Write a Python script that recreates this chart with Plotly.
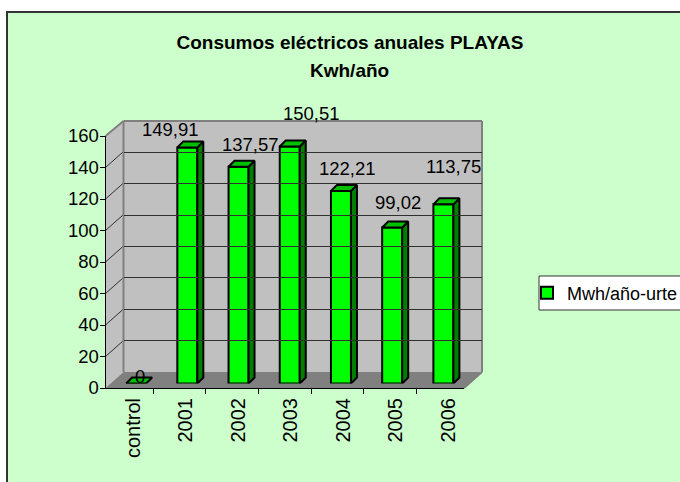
import plotly.graph_objects as go

categories = ["control", "2001", "2002", "2003", "2004", "2005", "2006"]
values = [0, 149.91, 137.57, 150.51, 122.21, 99.02, 113.75]
value_labels = ["0", "149,91", "137,57", "150,51", "122,21", "99,02", "113,75"]
y_ticks = [0, 20, 40, 60, 80, 100, 120, 140, 160]
series_name = "Mwh/año-urte"
title_line1 = "Consumos eléctricos anuales PLAYAS"
title_line2 = "Kwh/año"

# layout, in window pixels
W, H = 680, 482
FONT = "Liberation Sans"
FS = 18
label_dx = [4, -17, 12, 22, 7, 6, 10]
label_dy = [7, 18, 22, 33, 23, 25, 38]
AX_L, AX_R, AX_B, AX_T = 105.5, 464, 388, 136
DEPTH_X, DEPTH_Y = 18, 16
BAR_SHIFT_X, BAR_SHIFT_Y = 5, 4.5
FACE = 6
idx = list(range(len(categories)))
px_per_cat = (AX_R - AX_L) / len(categories)
ymax = y_ticks[-1]
px_per_val = (AX_B - AX_T) / ymax
dx = FACE / px_per_cat
dy = FACE / px_per_val
BAR_W = 20 / px_per_cat


def fx(x):
    return x / W


def fy(y):
    return 1 - y / H


def dom_x(a, b):
    return [fx(a), fx(b)]


def dom_y(bottom, top):
    return [fy(bottom), fy(top)]


def poly(points, fill, line="rgba(0,0,0,0)", width=0):
    path = "M " + " L ".join(f"{fx(x)},{fy(y)}" for x, y in points) + " Z"
    return dict(type="path", xref="paper", yref="paper", path=path, fillcolor=fill,
                line=dict(color=line, width=width), layer="below")


def seg(p, q, color, width):
    return dict(type="line", xref="paper", yref="paper", x0=fx(p[0]), y0=fy(p[1]),
                x1=fx(q[0]), y1=fy(q[1]), line=dict(color=color, width=width), layer="below")


GREY = "#808080"
WALL = "#C0C0C0"
BL, BR = AX_L + DEPTH_X, AX_R + DEPTH_X
BB, BT = AX_B - DEPTH_Y, AX_T - DEPTH_Y + 1
shapes = [
    dict(type="rect", xref="paper", yref="paper", x0=fx(7), y0=fy(12), x1=fx(W + 5), y1=fy(H + 5),
         fillcolor="#CCFFCC", line=dict(color="#333333", width=2), layer="below"),
    poly([(AX_L, AX_B), (BL, BB), (BL, BT), (AX_L, AX_T)], WALL),
    poly([(BL, BT), (BR, BT), (BR, BB), (BL, BB)], WALL),
    poly([(AX_L, AX_B), (AX_R, AX_B), (BR, BB), (BL, BB)], GREY),
]
for t in y_ticks[1:-1]:
    y = AX_B - t * px_per_val
    shapes.append(seg((AX_L, y), (BL, y - DEPTH_Y), "#303030", 1))
shapes += [
    seg((AX_L, AX_T), (BL, BT), GREY, 2),
    seg((BL, BT), (BR, BT), GREY, 2),
    seg((BR, BT), (BR, BB), GREY, 2),
    seg((BL, BT), (BL, BB), GREY, 2),
    seg((AX_R, AX_B), (BR, BB), GREY, 2),
    # legend box
    dict(type="rect", xref="paper", yref="paper", x0=fx(539), y0=fy(276), x1=fx(W + 5), y1=fy(310),
         fillcolor="#FFFFFF", line=dict(color="#333333", width=1), layer="below"),
]

fig = go.Figure()

# invisible carriers so every axis is drawn
fig.add_trace(go.Scatter(x=categories, y=values, xaxis="x", yaxis="y", mode="markers",
                         marker=dict(opacity=0), hoverinfo="skip", showlegend=False))
fig.add_trace(go.Scatter(x=idx, y=values, xaxis="x3", yaxis="y3", mode="markers",
                         marker=dict(opacity=0), hoverinfo="skip", showlegend=False))

# front faces
fig.add_trace(go.Bar(x=idx, y=values, xaxis="x2", yaxis="y2", width=BAR_W, name=series_name,
                     marker=dict(color="#00FF00", line=dict(color="#000000", width=2)),
                     showlegend=True))

# side and top faces, derived from the values
side_x, side_y, top_x, top_y = [], [], [], []
for i, v in zip(idx, values):
    r = i + BAR_W / 2
    l = i - BAR_W / 2
    if v > 0:
        side_x += [r, r + dx, r + dx, r, r, None]
        side_y += [0, dy, v + dy, v, 0, None]
    top_x += [l, r, r + dx, l + dx, l, None]
    top_y += [v, v, v + dy, v + dy, v, None]
fig.add_trace(go.Scatter(x=side_x, y=side_y, xaxis="x2", yaxis="y2", mode="lines", fill="toself",
                         fillcolor="#008000", line=dict(color="#000000", width=2),
                         hoverinfo="skip", showlegend=False, cliponaxis=False))
fig.add_trace(go.Scatter(x=top_x, y=top_y, xaxis="x2", yaxis="y2", mode="lines", fill="toself",
                         fillcolor="#00C000", line=dict(color="#000000", width=2),
                         hoverinfo="skip", showlegend=False, cliponaxis=False))

annotations = [
    dict(xref="x2", yref="y2", x=i, y=v, text=t, showarrow=False, xanchor="center", yanchor="middle",
         xshift=sx, yshift=sy, font=dict(family=FONT, size=18.5, color="#000000"))
    for i, v, t, sx, sy in zip(idx, values, value_labels, label_dx, label_dy)
]
annotations.append(dict(xref="paper", yref="paper", x=fx(350), y=fy(70), text=f"<b>{title_line2}</b>",
                        showarrow=False, xanchor="center", yanchor="middle",
                        font=dict(family=FONT, size=19, color="#000000")))

hidden = dict(visible=False, fixedrange=True)
fig.update_layout(
    width=W, height=H, autosize=False,
    margin=dict(l=0, r=0, t=0, b=0, pad=0, autoexpand=False),
    paper_bgcolor="#FFFFFF", plot_bgcolor="rgba(0,0,0,0)",
    font=dict(family=FONT, size=FS, color="#000000"),
    title=dict(text=f"<b>{title_line1}</b>", x=fx(350), xanchor="center", xref="paper",
               y=fy(42), yanchor="middle", yref="container",
               font=dict(family=FONT, size=19, color="#000000")),
    shapes=shapes, annotations=annotations,
    barmode="overlay",
    showlegend=True,
    legend=dict(x=fx(527), xanchor="left", xref="container", y=fy(293), yanchor="middle",
                yref="container", bgcolor="rgba(0,0,0,0)",
                borderwidth=0, font=dict(family=FONT, size=FS, color="#000000"),
                itemclick=False, itemdoubleclick=False),
    xaxis=dict(domain=dom_x(AX_L, AX_R), anchor="y", type="category", categoryorder="array",
               categoryarray=categories, tickson="boundaries", ticks="outside", ticklen=5,
               tickwidth=1, tickcolor="#000000", tickangle=-90, showgrid=False, showline=True,
               linecolor="#000000", linewidth=1, zeroline=False, ticklabelshift=6,
               ticklabelstandoff=1,
               tickfont=dict(family=FONT, size=20, color="#000000"), fixedrange=True),
    yaxis=dict(domain=dom_y(AX_B, AX_T), anchor="x", range=[0, ymax], tickvals=y_ticks,
               ticks="outside", ticklen=5, tickwidth=1, tickcolor="#000000", showgrid=False,
               showline=True, linecolor="#000000", linewidth=1, zeroline=False,
               ticklabelstandoff=-3,
               tickfont=dict(family=FONT, size=18.5, color="#000000"), fixedrange=True),
    xaxis2=dict(domain=dom_x(AX_L + BAR_SHIFT_X, AX_R + BAR_SHIFT_X), anchor="y2",
                range=[-0.5, len(categories) - 0.5], **hidden),
    yaxis2=dict(domain=dom_y(AX_B - BAR_SHIFT_Y, AX_T - BAR_SHIFT_Y), anchor="x2",
                range=[0, ymax], **hidden),
    xaxis3=dict(domain=dom_x(BL, BR), anchor="y3", range=[-0.5, len(categories) - 0.5],
                showticklabels=False, ticks="", showgrid=False, zeroline=False, showline=False,
                fixedrange=True),
    yaxis3=dict(domain=dom_y(BB, BT), anchor="x3", range=[0, ymax], tickvals=y_ticks[1:-1],
                showticklabels=False, ticks="", showgrid=True, gridcolor="#303030", gridwidth=1,
                zeroline=False, showline=False, fixedrange=True),
)

page_fix = ("document.documentElement.style.overflow='hidden';document.body.style.margin='0';"
            "var g=document.getElementById('{plot_id}');g.style.position='fixed';"
            "g.style.left='0';g.style.top='0';")
fig.write_html("out.html", config=dict(displayModeBar=False), post_script=page_fix)
